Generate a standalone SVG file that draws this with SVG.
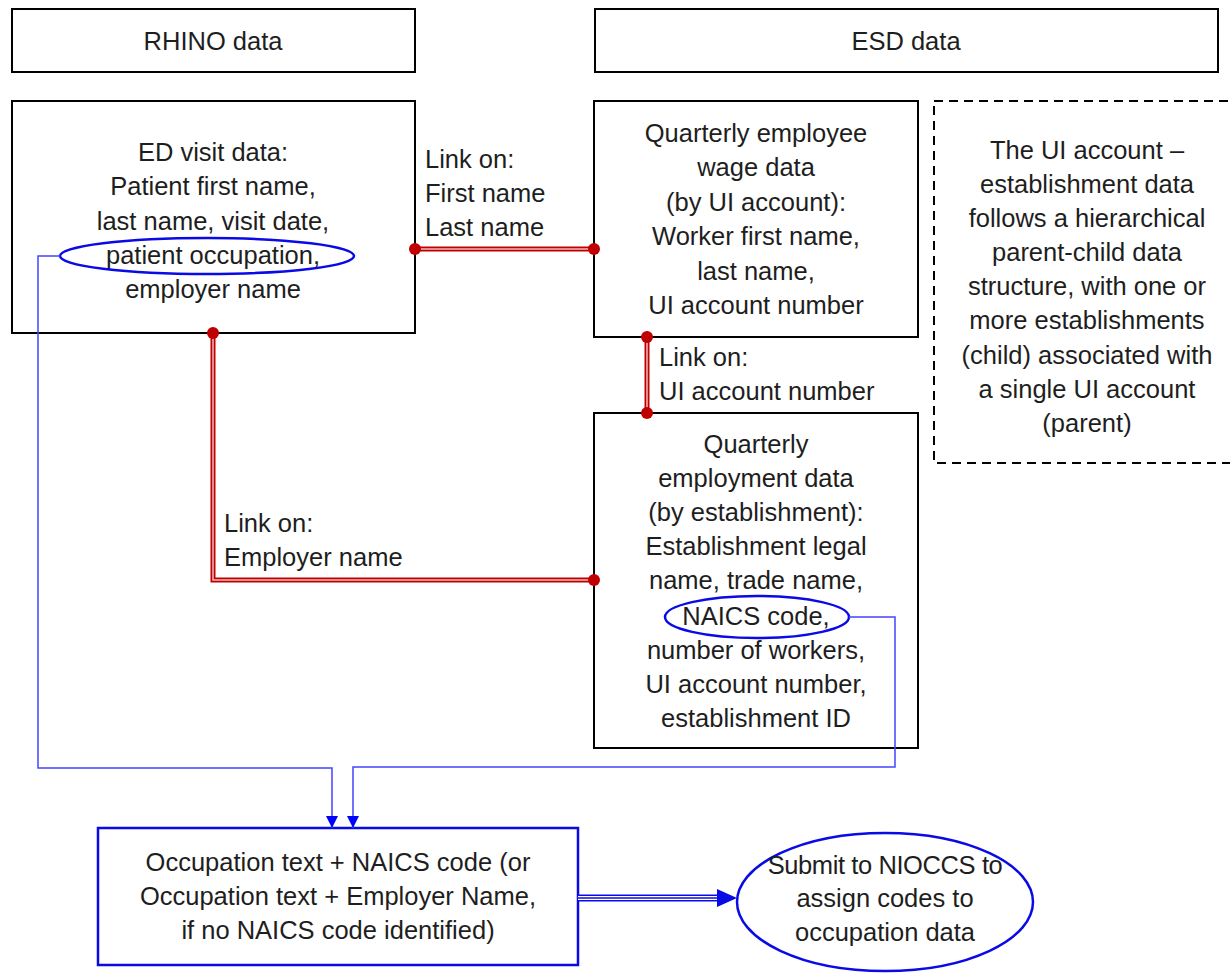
<svg xmlns="http://www.w3.org/2000/svg" width="1230" height="974" viewBox="0 0 1230 974">
<defs>
<style>
text{font-family:"Liberation Sans",Arial,sans-serif;font-size:25.5px;fill:#1e1e1e;text-anchor:middle}
.l{text-anchor:start}
.box{fill:#fff;stroke:#000;stroke-width:2}
.dash{fill:#fff;stroke:#000;stroke-width:2;stroke-dasharray:9 6}
.hl{fill:none;stroke:#0a0ae6;stroke-width:2.5}
.red{fill:none;stroke:#c00000;stroke-width:5}
.redin{fill:none;stroke:#f4b8b8;stroke-width:1.5}
.dot{fill:#c00000}
.blu{fill:none;stroke:#4444ff;stroke-width:1.5}
</style>
<marker id="ah" viewBox="0 0 12 12" refX="12" refY="6" markerWidth="12" markerHeight="12" markerUnits="userSpaceOnUse" orient="auto">
<path d="M0,0 L12,6 L0,12 Z" fill="#0000ff"/>
</marker>
</defs>
<rect width="1230" height="974" fill="#fff"/>

<g id="rhino">
<rect class="box" x="12" y="9" width="403" height="63"/>
<text x="213" y="50">RHINO data</text>
</g>
<g id="esd">
<rect class="box" x="595" y="9" width="623" height="63"/>
<text x="906" y="50">ESD data</text>
</g>

<g id="ed-visit">
<rect class="box" x="12" y="101" width="403" height="232"/>
<text x="213" y="161">ED visit data:</text>
<text x="213" y="195">Patient first name,</text>
<text x="213" y="230">last name, visit date,</text>
<text x="213" y="264">patient occupation,</text>
<text x="213" y="298">employer name</text>
<ellipse class="hl" cx="207" cy="256" rx="147" ry="18"/>
</g>

<g id="wage">
<rect class="box" x="594" y="101" width="324" height="236"/>
<text x="756" y="142">Quarterly employee</text>
<text x="756" y="176">wage data</text>
<text x="756" y="211">(by UI account):</text>
<text x="756" y="245">Worker first name,</text>
<text x="756" y="280">last name,</text>
<text x="756" y="314">UI account number</text>
</g>

<g id="note">
<rect class="dash" x="934" y="101" width="320" height="362"/>
<text x="1087" y="159">The UI account –</text>
<text x="1087" y="193">establishment data</text>
<text x="1087" y="227">follows a hierarchical</text>
<text x="1087" y="261">parent-child data</text>
<text x="1087" y="295">structure, with one or</text>
<text x="1087" y="329">more establishments</text>
<text x="1087" y="364">(child) associated with</text>
<text x="1087" y="398">a single UI account</text>
<text x="1087" y="432">(parent)</text>
</g>

<g id="employment">
<rect class="box" x="594" y="413" width="324" height="335"/>
<text x="756" y="453">Quarterly</text>
<text x="756" y="487">employment data</text>
<text x="756" y="521">(by establishment):</text>
<text x="756" y="555">Establishment legal</text>
<text x="756" y="589">name, trade name,</text>
<text x="756" y="625">NAICS code,</text>
<text x="756" y="659">number of workers,</text>
<text x="756" y="693">UI account number,</text>
<text x="756" y="727">establishment ID</text>
<ellipse class="hl" cx="757" cy="617" rx="92" ry="21"/>
</g>

<g id="combined">
<rect x="98" y="828" width="480" height="137" fill="#fff" stroke="#0a0ae6" stroke-width="2.5"/>
<text x="338" y="871">Occupation text + NAICS code (or</text>
<text x="338" y="905">Occupation text + Employer Name,</text>
<text x="338" y="939">if no NAICS code identified)</text>
</g>

<g id="nioccs">
<ellipse cx="885" cy="902" rx="148" ry="69" fill="#fff" stroke="#0a0ae6" stroke-width="2.5"/>
<text x="885" y="874" style="letter-spacing:-0.4px">Submit to NIOCCS to</text>
<text x="885" y="907">assign codes to</text>
<text x="885" y="941">occupation data</text>
</g>

<g id="connectors">
<path class="red" d="M415,249 L594,249"/>
<path class="redin" d="M415,249 L594,249"/>
<path class="red" d="M213,333 L213,580 L594,580"/>
<path class="redin" d="M213,333 L213,580 L594,580"/>
<path class="red" d="M647,337 L647,413"/>
<path class="redin" d="M647,337 L647,413"/>
<circle class="dot" cx="415" cy="249" r="6"/>
<circle class="dot" cx="594" cy="249" r="6"/>
<circle class="dot" cx="213" cy="333" r="6"/>
<circle class="dot" cx="594" cy="580" r="6"/>
<circle class="dot" cx="647" cy="337" r="6"/>
<circle class="dot" cx="647" cy="413" r="6"/>
<text class="l" x="425" y="168">Link on:</text>
<text class="l" x="425" y="202">First name</text>
<text class="l" x="425" y="236">Last name</text>
<text class="l" x="659" y="366">Link on:</text>
<text class="l" x="659" y="400">UI account number</text>
<text class="l" x="224" y="532">Link on:</text>
<text class="l" x="224" y="566">Employer name</text>
<path class="blu" d="M60,256 L38,256 L38,768 L332,768 L332,828" marker-end="url(#ah)"/>
<path class="blu" d="M849,617 L895,617 L895,767 L353,767 L353,828" marker-end="url(#ah)"/>
<path d="M578,898 L718,898" fill="none" stroke="#0a0ae6" stroke-width="7"/>
<path d="M578,898 L719,898" fill="none" stroke="#fff" stroke-width="4"/>
<path d="M578,898 L719,898" fill="none" stroke="#0a0ae6" stroke-width="1.5"/>
<path d="M717,889 L737,898 L717,907 Z" fill="#0a0ae6"/>
</g>
</svg>
